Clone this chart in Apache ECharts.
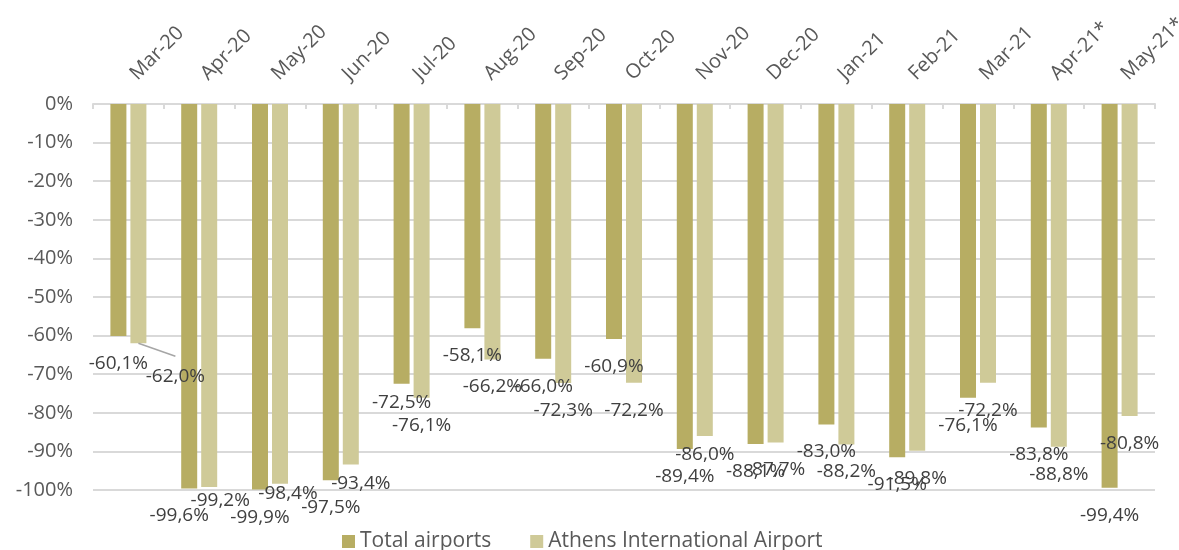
<!DOCTYPE html>
<html>
<head>
<meta charset="utf-8">
<script src="https://cdn.jsdelivr.net/npm/echarts@6/dist/echarts.min.js"></script>
<style>
html,body{margin:0;padding:0;background:#fff;}
#chart{width:1179px;height:550px;}
</style>
</head>
<body>
<div id="chart"></div>
<script>
const categories = ['Mar-20','Apr-20','May-20','Jun-20','Jul-20','Aug-20','Sep-20','Oct-20','Nov-20','Dec-20','Jan-21','Feb-21','Mar-21','Apr-21*','May-21*'];
const totalAirports = [-60.1,-99.6,-99.9,-97.5,-72.5,-58.1,-66.0,-60.9,-89.4,-88.1,-83.0,-91.5,-76.1,-83.8,-99.4];
const athensAirport = [-62.0,-99.2,-98.4,-93.4,-76.1,-66.2,-72.3,-72.2,-86.0,-87.7,-88.2,-89.8,-72.2,-88.8,-80.8];
const seriesNames = ['Total airports','Athens International Airport'];

// manual label nudges (as in the original, where some labels were dragged)
const labelNudges = {
  0: {1: [-10, 0], 4: [0, -9]},
  1: {0: [37, 6], 1: [11, -14], 2: [8, -18], 3: [10, -8], 8: [0, -9]}
};
// index of the Athens label that has a leader line
const leaderIndex = 0;

const FONT = "'Open Sans', sans-serif";
const fmt = v => v.toFixed(1).replace('.', ',') + '%';

const chart = echarts.init(document.getElementById('chart'), null, {renderer: 'canvas'});

function makeSeries(idx, values, color) {
  return {
    name: seriesNames[idx],
    type: 'bar',
    barWidth: 16,
    barGap: '25%',
    itemStyle: {color: color},
    data: values,
    label: {
      show: true,
      position: 'bottom',
      distance: 18,
      color: '#404040',
      fontFamily: FONT,
      fontSize: 19,
      formatter: p => fmt(p.value)
    },
    labelLayout: p => {
      const n = (labelNudges[idx] || {})[p.dataIndex];
      return n ? {dx: n[0], dy: n[1]} : {};
    }
  };
}

chart.setOption({
  animation: false,
  textStyle: {fontFamily: FONT},
  grid: {left: 93, right: 24, top: 104, bottom: 60, containLabel: false, outerBoundsMode: 'none'},
  legend: {
    left: 337,
    top: 526,
    itemWidth: 13,
    itemHeight: 13,
    itemGap: 39,
    icon: 'rect',
    textStyle: {color: '#595959', fontSize: 21, fontFamily: FONT},
    data: seriesNames
  },
  xAxis: {
    type: 'category',
    position: 'top',
    data: categories,
    axisLine: {show: true, lineStyle: {color: '#d9d9d9', width: 2}},
    axisTick: {show: true, inside: true, length: 5, lineStyle: {color: '#d9d9d9', width: 2}},
    axisLabel: {rotate: 45, margin: 22, padding: [0, 0, 0, 7], color: '#595959', fontSize: 20, fontFamily: FONT, interval: 0},
    splitLine: {show: false}
  },
  yAxis: {
    type: 'value',
    min: -100,
    max: 0,
    interval: 10,
    axisLine: {show: false},
    axisTick: {show: false},
    axisLabel: {color: '#595959', fontSize: 20, fontFamily: FONT, margin: 20, formatter: v => v + '%'},
    splitLine: {lineStyle: {color: '#d9d9d9', width: 2}}
  },
  series: [
    makeSeries(0, totalAirports, '#b7ad63'),
    makeSeries(1, athensAirport, '#cfca98'),
    {
      type: 'custom',
      name: 'leader',
      silent: true,
      z: 5,
      data: [[leaderIndex, athensAirport[leaderIndex]]],
      renderItem: (params, api) => {
        const p = api.coord([api.value(0), api.value(1)]);
        return {
          type: 'line',
          shape: {x1: p[0] + 10, y1: p[1], x2: p[0] + 47, y2: p[1] + 13},
          style: {stroke: '#a6a6a6', lineWidth: 1.5}
        };
      }
    }
  ]
});
</script>
</body>
</html>
